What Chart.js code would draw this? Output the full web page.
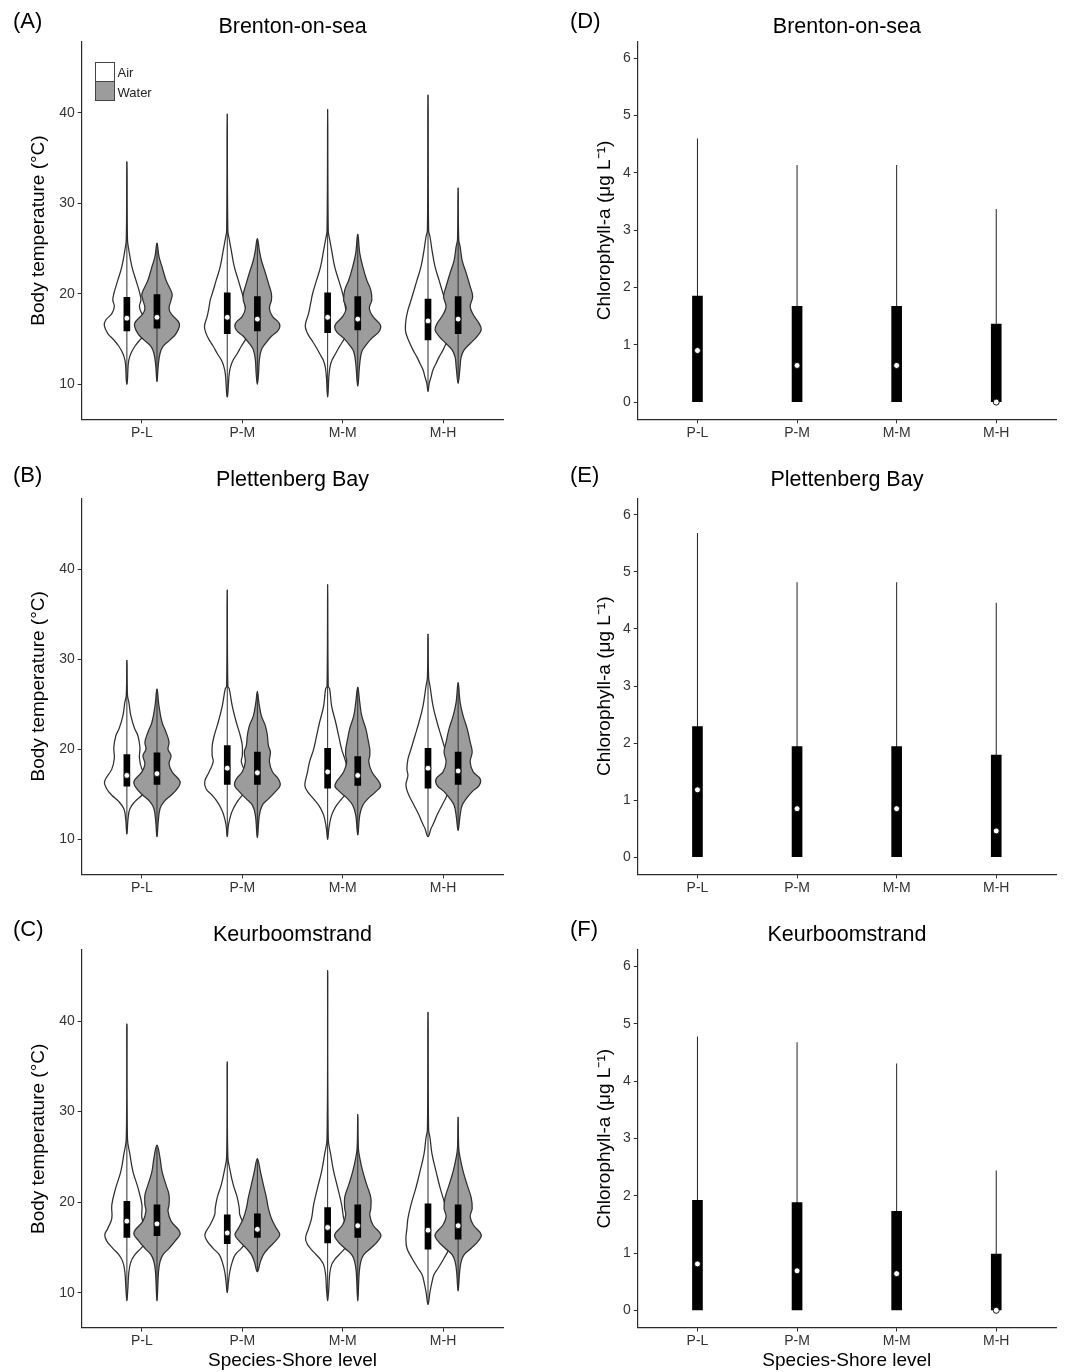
<!DOCTYPE html>
<html>
<head>
<meta charset="utf-8">
<script src="https://cdn.jsdelivr.net/npm/chart.js@4.4.1/dist/chart.umd.min.js"></script>
<style>
  body { margin: 0; background: #fff; font-family: 'Liberation Sans', Arial, sans-serif; }
  #fig { position: relative; width: 1072px; height: 1372px; overflow: hidden; }
  #fig canvas { position: absolute; }
  .tag, .ttl, .key-txt { position: absolute; line-height: 1; white-space: nowrap; color: #000; }
  .tag { font-size: 22px; }
  .ttl { font-size: 21.5px; transform: translateX(-50%); }
  .key { position: absolute; left: 95px; width: 20px; height: 20px; box-sizing: border-box; border: 1px solid #444; }
  .key-txt { font-size: 13px; color: #222; left: 117.5px; }
</style>
</head>
<body>
<div id="fig">
  <canvas id="cA" width="520" height="455" style="left:0;top:0"></canvas>
  <canvas id="cB" width="520" height="455" style="left:0;top:455px"></canvas>
  <canvas id="cC" width="520" height="462" style="left:0;top:910px"></canvas>
  <canvas id="cD" width="532" height="455" style="left:540px;top:0"></canvas>
  <canvas id="cE" width="532" height="455" style="left:540px;top:455px"></canvas>
  <canvas id="cF" width="532" height="462" style="left:540px;top:910px"></canvas>

  <div class="tag" style="left:13px;top:9.7px">(A)</div>
  <div class="tag" style="left:13px;top:464.4px">(B)</div>
  <div class="tag" style="left:13px;top:918.4px">(C)</div>
  <div class="tag" style="left:570px;top:9.7px">(D)</div>
  <div class="tag" style="left:570px;top:464.4px">(E)</div>
  <div class="tag" style="left:570px;top:918.4px">(F)</div>

  <div class="ttl" style="left:292.5px;top:16.1px">Brenton-on-sea</div>
  <div class="ttl" style="left:292.5px;top:469.1px">Plettenberg Bay</div>
  <div class="ttl" style="left:292.5px;top:923.5px">Keurboomstrand</div>
  <div class="ttl" style="left:846.9px;top:16.1px">Brenton-on-sea</div>
  <div class="ttl" style="left:846.9px;top:469.1px">Plettenberg Bay</div>
  <div class="ttl" style="left:846.9px;top:923.5px">Keurboomstrand</div>

  <div class="key" style="top:62px;background:#fff"></div>
  <div class="key" style="top:81px;background:#9c9c9c"></div>
  <div class="key-txt" style="top:65.7px">Air</div>
  <div class="key-txt" style="top:85.7px">Water</div>
</div>
<script>
'use strict';

// ── Data ─────────────────────────────────────────────────────────────────────

const categories = ['P-L', 'P-M', 'M-M', 'M-H'];
const tempTicks = [10, 20, 30, 40];
const chlTicks = [0, 1, 2, 3, 4, 5, 6];

// violin outlines: [temperature, half width in category units], top to bottom
const brentonAir = [
  [[34.6,0],[26.0,0.006],[24.8,0.02],[23.0,0.05],[21.5,0.09],[20.0,0.13],[19.3,0.14],[18.6,0.125],[17.8,0.15],[17.1,0.21],[16.5,0.225],[15.6,0.19],[14.9,0.13],[14.2,0.08],[13.4,0.04],[12.7,0.02],[12.0,0.012],[10.5,0.006],[10.0,0]],
  [[39.9,0],[27.0,0.006],[26.0,0.02],[24.8,0.04],[23.0,0.07],[21.5,0.11],[20.0,0.15],[19.3,0.17],[18.6,0.18],[17.5,0.20],[16.4,0.227],[15.6,0.21],[14.9,0.18],[14.2,0.14],[13.4,0.10],[12.7,0.06],[12.0,0.035],[11.2,0.02],[10.1,0.012],[9.0,0.006],[8.6,0]],
  [[40.4,0],[27.0,0.006],[26.0,0.02],[24.8,0.04],[23.0,0.07],[21.5,0.11],[20.0,0.15],[18.9,0.17],[17.8,0.19],[16.5,0.223],[15.6,0.20],[14.9,0.16],[14.2,0.12],[13.4,0.08],[12.7,0.045],[12.0,0.025],[10.8,0.012],[9.4,0.006],[8.6,0]],
  [[42.0,0],[27.0,0.006],[26.3,0.02],[24.8,0.04],[23.0,0.07],[21.5,0.11],[20.0,0.15],[18.9,0.18],[18.2,0.20],[17.1,0.22],[16.0,0.225],[15.3,0.21],[14.5,0.18],[13.8,0.15],[13.0,0.11],[12.3,0.08],[11.6,0.05],[10.8,0.03],[10.1,0.012],[9.2,0]],
];
const brentonWater = [
  [[25.6,0],[24.1,0.02],[23.0,0.05],[21.5,0.09],[20.0,0.15],[19.3,0.14],[18.4,0.12],[17.8,0.14],[16.7,0.223],[15.6,0.19],[14.9,0.13],[14.2,0.06],[13.4,0.03],[12.0,0.012],[10.3,0]],
  [[26.1,0],[24.8,0.02],[23.7,0.04],[22.3,0.08],[20.8,0.12],[20.0,0.14],[19.3,0.14],[18.4,0.12],[17.5,0.15],[16.7,0.22],[16.0,0.21],[15.3,0.14],[14.5,0.08],[13.8,0.04],[12.7,0.02],[11.2,0.012],[10.0,0]],
  [[26.6,0],[24.5,0.02],[23.0,0.05],[21.5,0.09],[20.4,0.13],[19.3,0.14],[18.4,0.115],[17.5,0.15],[16.5,0.227],[15.8,0.21],[15.1,0.14],[14.3,0.08],[13.6,0.04],[12.3,0.02],[9.8,0]],
  [[31.7,0],[26.0,0.006],[25.2,0.02],[23.7,0.04],[22.3,0.08],[20.8,0.12],[19.7,0.145],[18.6,0.12],[17.7,0.15],[16.7,0.21],[16.0,0.23],[15.3,0.19],[14.5,0.12],[13.8,0.06],[13.0,0.03],[12.0,0.02],[10.1,0]],
];
const plettAir = [
  [[29.9,0],[26.0,0.006],[25.2,0.02],[23.7,0.04],[22.3,0.077],[21.5,0.11],[20.2,0.13],[19.0,0.125],[17.8,0.15],[16.4,0.223],[15.6,0.20],[14.9,0.15],[14.2,0.08],[13.4,0.03],[12.3,0.012],[10.6,0]],
  [[37.7,0],[27.0,0.006],[26.7,0.02],[24.8,0.05],[23.0,0.09],[21.5,0.13],[20.4,0.15],[19.3,0.15],[18.6,0.14],[17.5,0.18],[16.4,0.225],[15.6,0.21],[14.9,0.15],[14.2,0.10],[13.4,0.06],[12.7,0.035],[11.6,0.012],[10.3,0]],
  [[38.3,0],[27.0,0.006],[26.7,0.02],[24.8,0.04],[23.0,0.08],[21.5,0.11],[20.0,0.14],[18.6,0.18],[17.5,0.20],[16.0,0.227],[15.3,0.20],[14.5,0.14],[13.8,0.09],[13.0,0.05],[12.3,0.03],[11.2,0.012],[10.0,0]],
  [[32.8,0],[28.0,0.006],[27.0,0.02],[24.8,0.05],[23.0,0.09],[21.5,0.13],[20.0,0.17],[18.9,0.20],[17.8,0.21],[17.1,0.20],[16.0,0.22],[14.9,0.19],[13.8,0.14],[12.7,0.09],[11.9,0.06],[11.2,0.03],[10.3,0]],
];
const plettWater = [
  [[26.7,0],[24.8,0.02],[23.0,0.05],[21.9,0.09],[20.8,0.12],[20.0,0.11],[19.3,0.14],[18.4,0.12],[17.5,0.15],[16.4,0.23],[15.6,0.20],[14.9,0.14],[14.2,0.07],[13.4,0.03],[11.9,0.012],[10.3,0]],
  [[26.4,0],[25.2,0.015],[23.7,0.04],[22.6,0.08],[21.5,0.10],[20.4,0.11],[19.7,0.13],[18.6,0.12],[17.5,0.15],[16.7,0.21],[16.0,0.227],[15.3,0.18],[14.5,0.11],[13.8,0.05],[12.7,0.02],[10.2,0]],
  [[26.9,0],[25.2,0.02],[23.7,0.04],[22.3,0.08],[21.2,0.10],[20.0,0.12],[19.3,0.12],[18.6,0.11],[17.5,0.14],[16.0,0.227],[15.3,0.18],[14.5,0.10],[13.8,0.05],[12.7,0.02],[10.5,0]],
  [[27.4,0],[25.2,0.02],[23.7,0.05],[22.3,0.09],[20.8,0.12],[19.7,0.14],[18.6,0.12],[17.5,0.15],[16.7,0.22],[16.0,0.21],[15.3,0.14],[14.5,0.08],[13.8,0.04],[12.7,0.02],[11.0,0]],
];
const keurAir = [
  [[39.7,0],[27.0,0.006],[25.3,0.03],[23.4,0.06],[21.6,0.11],[19.7,0.15],[18.2,0.15],[17.1,0.19],[16.4,0.22],[15.7,0.20],[14.9,0.14],[14.2,0.08],[13.4,0.04],[12.3,0.02],[10.5,0.01],[9.1,0]],
  [[35.5,0],[25.0,0.006],[23.4,0.03],[21.9,0.06],[20.5,0.10],[19.3,0.12],[18.6,0.125],[17.5,0.17],[16.4,0.223],[15.7,0.20],[14.9,0.14],[14.2,0.08],[13.4,0.05],[12.3,0.025],[11.2,0.012],[10.0,0]],
  [[45.6,0],[27.0,0.006],[25.3,0.03],[23.4,0.06],[21.6,0.10],[19.7,0.14],[18.2,0.16],[17.1,0.19],[16.0,0.22],[15.3,0.20],[14.5,0.14],[13.8,0.08],[13.1,0.04],[12.0,0.02],[10.5,0.012],[9.1,0]],
  [[41.0,0],[28.0,0.006],[27.1,0.02],[25.3,0.04],[23.4,0.08],[21.6,0.12],[19.7,0.17],[18.2,0.20],[17.1,0.21],[16.0,0.22],[14.9,0.21],[13.8,0.16],[12.7,0.10],[12.0,0.06],[11.2,0.04],[10.1,0.02],[8.7,0]],
];
const keurWater = [
  [[26.3,0],[24.9,0.03],[23.4,0.05],[21.9,0.09],[20.8,0.12],[19.7,0.12],[19.0,0.11],[17.9,0.14],[16.6,0.23],[15.7,0.18],[14.9,0.12],[14.2,0.06],[13.4,0.03],[12.3,0.015],[9.1,0]],
  [[24.8,0],[23.4,0.03],[21.9,0.06],[20.5,0.09],[19.3,0.11],[18.2,0.14],[17.1,0.19],[16.4,0.223],[15.7,0.18],[14.9,0.11],[14.2,0.06],[13.4,0.03],[12.3,0]],
  [[29.7,0],[26.0,0.006],[24.9,0.02],[23.4,0.05],[21.9,0.09],[20.5,0.13],[19.3,0.13],[18.6,0.12],[17.5,0.15],[16.4,0.23],[15.7,0.20],[14.9,0.13],[14.2,0.06],[13.4,0.03],[12.3,0.015],[9.1,0]],
  [[29.4,0],[26.0,0.006],[24.9,0.02],[23.4,0.05],[21.9,0.09],[20.5,0.13],[19.3,0.14],[18.4,0.12],[17.5,0.15],[16.4,0.23],[15.7,0.20],[14.9,0.13],[14.2,0.06],[13.4,0.03],[12.3,0.015],[10.2,0]],
];

// inner boxes: [q1, median, q3]
const brentonAirBox   = [[15.9,17.3,19.6],[15.6,17.4,20.1],[15.7,17.4,20.1],[14.9,17.0,19.4]];
const brentonWaterBox = [[16.2,17.4,19.9],[15.9,17.2,19.7],[16.0,17.2,19.7],[15.6,17.2,19.7]];
const plettAirBox     = [[15.9,17.1,19.4],[16.1,17.9,20.4],[15.7,17.5,20.1],[15.7,17.9,20.1]];
const plettWaterBox   = [[16.1,17.3,19.6],[16.1,17.4,19.7],[16.0,17.1,19.2],[16.1,17.6,19.7]];
const keurAirBox      = [[16.1,17.9,20.1],[15.4,16.6,18.6],[15.5,17.2,19.4],[14.8,16.9,19.8]];
const keurWaterBox    = [[16.3,17.6,19.7],[16.1,17.0,18.7],[16.1,17.4,19.7],[15.9,17.4,19.7]];

// chlorophyll-a: lower quartile and minimum sit at 0 for every group
const chlLow = 0;
const brentonChlQ3  = [1.85, 1.67, 1.67, 1.36];
const brentonChlMax = [4.60, 4.14, 4.14, 3.37];
const brentonChlMed = [0.90, 0.64, 0.64, 0.00];
const plettChlQ3    = [2.29, 1.94, 1.94, 1.79];
const plettChlMax   = [5.68, 4.82, 4.82, 4.46];
const plettChlMed   = [1.18, 0.85, 0.85, 0.46];
const keurChlQ3     = [1.92, 1.88, 1.73, 0.98];
const keurChlMax    = [4.78, 4.68, 4.31, 2.44];
const keurChlMed    = [0.81, 0.69, 0.64, 0.00];

// ── Style ────────────────────────────────────────────────────────────────────

const LINE = '#2b2b2b';
const OUTLINE = '#2e2e2e';
const TICK_TEXT = '#333';
const WATER_FILL = '#9c9c9c';
const AIR_OFF = -0.15;
const WATER_OFF = 0.15;

Chart.defaults.font.family = "'Liberation Sans', Arial, sans-serif";
Chart.defaults.color = TICK_TEXT;

// ── Helpers ──────────────────────────────────────────────────────────────────

function splinePath(ctx, pts, t) {
  const n = pts.length;
  const cps = pts.map((p, i) => {
    const a = pts[(i - 1 + n) % n], b = pts[(i + 1) % n];
    const d01 = Math.hypot(p.x - a.x, p.y - a.y);
    const d12 = Math.hypot(b.x - p.x, b.y - p.y);
    const s = d01 + d12 || 1;
    const fa = t * d01 / s, fb = t * d12 / s;
    return {
      px: p.x - fa * (b.x - a.x), py: p.y - fa * (b.y - a.y),
      nx: p.x + fb * (b.x - a.x), ny: p.y + fb * (b.y - a.y),
    };
  });
  ctx.beginPath();
  ctx.moveTo(pts[0].x, pts[0].y);
  for (let i = 0; i < n; i++) {
    const j = (i + 1) % n;
    ctx.bezierCurveTo(cps[i].nx, cps[i].ny, cps[j].px, cps[j].py, pts[j].x, pts[j].y);
  }
  ctx.closePath();
}

function violinPlugin(sets) {
  return {
    id: 'violins',
    beforeDatasetsDraw(chart) {
      const { ctx, scales: { x, y } } = chart;
      ctx.save();
      sets.forEach(set => {
        set.profiles.forEach((prof, i) => {
          const cx = i + set.offset;
          const right = prof.map(([t, w]) => ({ x: x.getPixelForValue(cx + w), y: y.getPixelForValue(t) }));
          const left = prof.slice(1, -1).reverse()
            .map(([t, w]) => ({ x: x.getPixelForValue(cx - w), y: y.getPixelForValue(t) }));
          splinePath(ctx, right.concat(left), 0.4);
          ctx.fillStyle = set.fill;
          ctx.fill();
          ctx.lineWidth = 1.25;
          ctx.strokeStyle = OUTLINE;
          ctx.stroke();
        });
      });
      ctx.restore();
    },
  };
}

function xAxis(title, h) {
  return {
    type: 'linear', min: -0.6, max: 3.6, bounds: 'data', offset: false,
    afterBuildTicks: s => { s.ticks = categories.map((_, i) => ({ value: i })); },
    afterFit: s => { s.height = h; },
    ticks: { callback: v => categories[v], font: { size: 14 }, color: TICK_TEXT, padding: 1, autoSkip: false, maxRotation: 0 },
    grid: { offset: false, drawOnChartArea: false, tickLength: 4, tickColor: LINE, tickWidth: 1 },
    border: { color: LINE, width: 1.2 },
    title: { display: !!title, text: title || '', color: '#000', font: { size: 19 }, padding: { top: 0, bottom: 0 } },
  };
}

function yAxis(title, min, max, ticks, titlePad, w) {
  return {
    type: 'linear', min, max, bounds: 'data',
    afterBuildTicks: s => { s.ticks = ticks.map(v => ({ value: v })); },
    afterFit: s => { s.width = w; },
    ticks: { font: { size: 14 }, color: TICK_TEXT, padding: 3 },
    grid: { drawOnChartArea: false, tickLength: 4, tickColor: LINE, tickWidth: 1 },
    border: { color: LINE, width: 1.2 },
    title: { display: true, text: title, color: '#000', font: { size: 19 }, padding: { top: titlePad, bottom: 0 } },
  };
}

function baseOptions(top, right, xTitle, xh, y) {
  return {
    responsive: false,
    animation: false,
    events: [],
    layout: { padding: { top, right, left: 0, bottom: 0 } },
    plugins: { legend: { display: false }, tooltip: { enabled: false } },
    scales: { x: xAxis(xTitle, xh), y },
  };
}

// ── Chart factories ──────────────────────────────────────────────────────────

function makeTempChart(id, air, water, airBox, waterBox, top, xTitle, xh) {
  const at = (arr, off, f) => arr.map((v, i) => ({ x: i + off, y: f(v) }));
  const boxes = at(airBox, AIR_OFF, b => [b[0], b[2]]).concat(at(waterBox, WATER_OFF, b => [b[0], b[2]]));
  const medians = at(airBox, AIR_OFF, b => b[1]).concat(at(waterBox, WATER_OFF, b => b[1]));
  const spans = at(air, AIR_OFF, p => [p[p.length - 1][0], p[0][0]])
    .concat(at(water, WATER_OFF, p => [p[p.length - 1][0], p[0][0]]));
  return new Chart(document.getElementById(id), {
    type: 'bar',
    data: {
      datasets: [
        { type: 'line', label: 'Median', data: medians, showLine: false, order: 0,
          pointRadius: 2.9, pointBackgroundColor: '#fff', pointBorderColor: '#000', pointBorderWidth: 0.8 },
        { label: 'IQR', data: boxes, backgroundColor: '#000', barThickness: 6, grouped: false, order: 1 },
        { label: 'Range', data: spans, backgroundColor: OUTLINE, barThickness: 1, grouped: false, inflateAmount: 0, order: 2 },
      ],
    },
    options: baseOptions(top, 16.7, xTitle, xh,
      yAxis('Body temperature (°C)', 6.13, 47.85, tempTicks, 27.5, 81.7)),
    plugins: [violinPlugin([
      { profiles: air, offset: AIR_OFF, fill: '#fff' },
      { profiles: water, offset: WATER_OFF, fill: WATER_FILL },
    ])],
  });
}

function makeChlChart(id, q3, max, med, top, xTitle, xh) {
  return new Chart(document.getElementById(id), {
    type: 'bar',
    data: {
      datasets: [
        { type: 'line', label: 'Median', data: med.map((v, i) => ({ x: i, y: v })), showLine: false, order: 0,
          pointRadius: 3, pointBackgroundColor: '#fff', pointBorderColor: '#000', pointBorderWidth: 0.9 },
        { label: 'IQR', data: q3.map((v, i) => ({ x: i, y: [chlLow, v] })),
          backgroundColor: '#000', barThickness: 10, grouped: false, order: 1 },
        { label: 'Range', data: max.map((v, i) => ({ x: i, y: [chlLow, v] })),
          backgroundColor: '#222', barThickness: 1, grouped: false, inflateAmount: 0, order: 2 },
      ],
    },
    options: baseOptions(top, 16, xTitle, xh,
      yAxis('Chlorophyll-a (μg L⁻¹)', -0.3, 6.29, chlTicks, 53, 97.7)),
  });
}

// ── Panels ───────────────────────────────────────────────────────────────────

makeTempChart('cA', brentonAir, brentonWater, brentonAirBox, brentonWaterBox, 41.7, null, 35.7);
makeTempChart('cB', plettAir, plettWater, plettAirBox, plettWaterBox, 43.3, null, 35.7);
makeTempChart('cC', keurAir, keurWater, keurAirBox, keurWaterBox, 40, 'Species-Shore level', 44.3);

makeChlChart('cD', brentonChlQ3, brentonChlMax, brentonChlMed, 41.7, null, 35.7);
makeChlChart('cE', plettChlQ3, plettChlMax, plettChlMed, 43.3, null, 35.7);
makeChlChart('cF', keurChlQ3, keurChlMax, keurChlMed, 40, 'Species-Shore level', 44.5);
</script>
</body>
</html>
